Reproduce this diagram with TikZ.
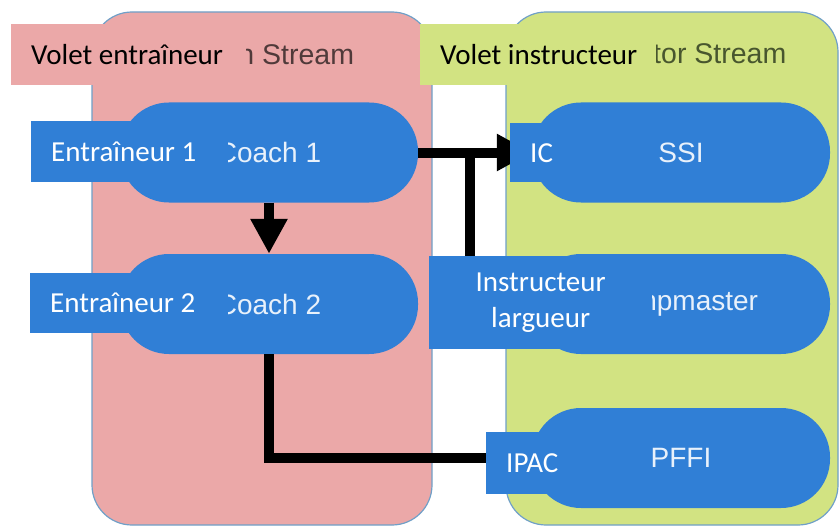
\documentclass[tikz,border=0pt]{standalone}
\usepackage{fontspec}
\newfontfamily\frfont{Carlito}
\newfontfamily\enfont{Liberation Sans}
\usetikzlibrary{arrows.meta}
\definecolor{lanepink}{RGB}{235,168,168}
\definecolor{lanegreen}{RGB}{210,227,130}
\definecolor{pillblue}{RGB}{48,127,214}
\definecolor{laneedge}{RGB}{112,160,200}
\definecolor{pinkhead}{RGB}{80,58,58}
\definecolor{greenhead}{RGB}{72,86,46}
\definecolor{pilltext}{RGB}{232,241,251}
\begin{document}
\begin{tikzpicture}[x=1pt,y=-1pt,
    lane/.style={draw=laneedge,line width=1.2pt,rounded corners=40pt},
    pill/.style={fill=pillblue,minimum width=298pt,minimum height=100pt,rounded corners=49pt,text=pilltext,font=\enfont\fontsize{28}{32}\selectfont},
    head/.style={font=\enfont\fontsize{28.5}{32}\selectfont},
    tag/.style={anchor=north west,fill=pillblue,text=white,inner xsep=20pt,inner ysep=0pt,align=flush left,font=\frfont\fontsize{29}{36}\selectfont},
    link/.style={line width=10pt},
    bigtip/.style={-{Triangle[width=35pt,length=35pt]}}]
  \useasboundingbox (0,0) rectangle (839,527);
  \fill[white] (0,0) rectangle (839,527);

  \draw[lane,fill=lanepink] (92,12) rectangle (432,525);
  \draw[lane,fill=lanegreen] (506,12) rectangle (838,525);
  \node[head,text=pinkhead] (capA) at (263,54) {Coach Stream};
  \node[head,text=greenhead] (capB) at (677,54) {Instructor Stream};

  \node[pill] (coachA) at (269,152.5) {Coach 1};
  \node[pill] (coachB) at (269,304) {Coach 2};
  \node[pill] (ssi) at (681,152.5) {SSI};
  \node[pill] (jump) at (681,304) {Jumpmaster};
  \node[pill] (pffi) at (681,458) {PFFI};

  \coordinate (join) at (470,152.5);
  \draw[link,bigtip] (coachA) -- (coachB);
  \draw[link,bigtip] (coachA) -- (ssi);
  \draw[link] (jump) -| (join);
  \draw[link,bigtip] (coachB) |- (pffi);

  \node[tag,fill=lanepink,text=black,text width=195pt,minimum height=61pt] (voletA) at (11,24) {\mbox{Volet entraîneur}};
  \node[tag,fill=lanegreen,text=black,text width=196pt,minimum height=61pt] (voletB) at (420,24) {\mbox{Volet instructeur}};
  \node[tag,text width=157pt,minimum height=61pt] (trainA) at (31,121) {Entraîneur 1};
  \node[tag,text width=158pt,minimum height=60pt] (trainB) at (30,273) {Entraîneur 2};
  \node[tag,text width=50pt,minimum height=59pt] (ic) at (510,123) {IC};
  \node[tag,align=flush center,text width=183pt,minimum height=93pt] (largueur) at (429,256) {Instructeur\\largueur};
  \node[tag,text width=60pt,minimum height=62pt] (ipac) at (486,432) {IPAC};
\end{tikzpicture}
\end{document}
